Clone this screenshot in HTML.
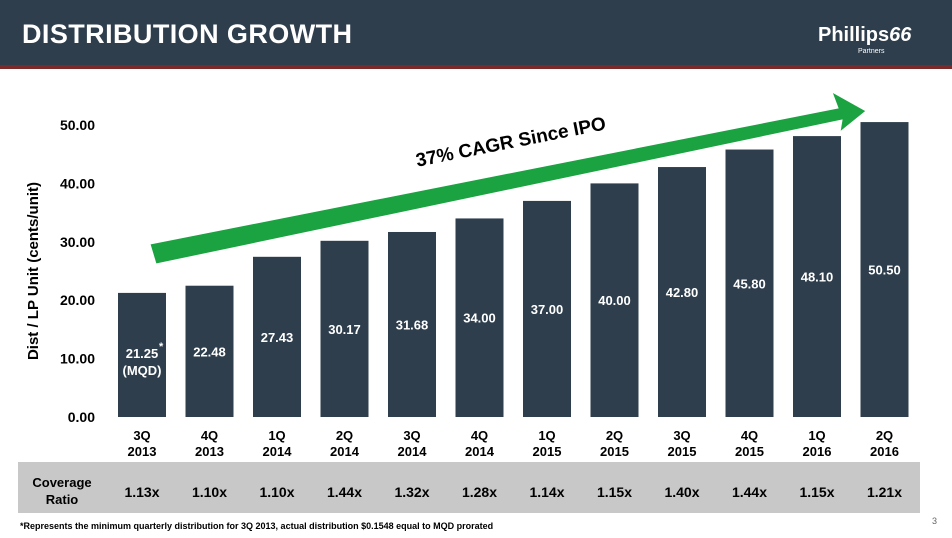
<!DOCTYPE html>
<html><head><meta charset="utf-8"><style>
body{margin:0;width:952px;height:533px;overflow:hidden;background:#fff;font-family:"Liberation Sans",sans-serif}
</style></head><body>
<svg width="952" height="533" xmlns="http://www.w3.org/2000/svg">
<rect x="0" y="0" width="952" height="65" fill="#2e3e4d"/>
<rect x="0" y="65" width="952" height="4" fill="#7a2a2a"/>
<text x="22" y="43" fill="#fff" font-size="27" font-weight="bold" textLength="330">DISTRIBUTION GROWTH</text>
<text x="818" y="41" fill="#fff" font-size="20" font-weight="bold">Phillips<tspan font-style="italic">66</tspan></text>
<text x="858" y="53" fill="#fff" font-size="7">Partners</text>
<rect x="18" y="462" width="902" height="51" fill="#c8c8c8"/>
<text x="62" y="487" text-anchor="middle" font-size="13" font-weight="bold">Coverage</text>
<text x="62" y="504" text-anchor="middle" font-size="13" font-weight="bold">Ratio</text>
<g id="chart"></g>
<text x="20" y="529" font-size="9" font-weight="bold">*Represents the minimum quarterly distribution for 3Q 2013, actual distribution $0.1548 equal to MQD prorated</text>
<text x="932" y="524" font-size="9" fill="#666">3</text>
</svg>
<script>
const categories=[["3Q","2013"],["4Q","2013"],["1Q","2014"],["2Q","2014"],["3Q","2014"],["4Q","2014"],["1Q","2015"],["2Q","2015"],["3Q","2015"],["4Q","2015"],["1Q","2016"],["2Q","2016"]];
const values=[21.25,22.48,27.43,30.17,31.68,34.00,37.00,40.00,42.80,45.80,48.10,50.50];
const coverage=["1.13x","1.10x","1.10x","1.44x","1.32x","1.28x","1.14x","1.15x","1.40x","1.44x","1.15x","1.21x"];
const yTicks=[0,10,20,30,40,50];
const NS="http://www.w3.org/2000/svg";
const g=document.getElementById('chart');
const y=v=>417-v*5.84;
const x=i=>118+i*67.5;
const bw=48;
function mk(tag,attrs,txt){const e=document.createElementNS(NS,tag);for(const k in attrs)e.setAttribute(k,attrs[k]);if(txt!==undefined)e.textContent=txt;g.appendChild(e);return e;}
yTicks.forEach(t=>{
 const e=mk('text',{x:95,y:y(t)+5,'text-anchor':'end','font-size':14,'font-weight':'bold'},t.toFixed(2));
 
 
});
const yt=mk('text',{transform:'translate(38,271) rotate(-90)','text-anchor':'middle','font-size':15,'font-weight':'bold'},'Dist / LP Unit (cents/unit)');


values.forEach((v,i)=>{
 const r=mk('rect',{x:x(i),y:y(v),width:bw,height:y(0)-y(v),fill:'#2e3e4d'});
 
 
 const cx=x(i)+bw/2;
 const lbl=mk('text',{x:cx,y:y(v/2)+5,'text-anchor':'middle','font-size':13,'font-weight':'bold',fill:'#fff'},v.toFixed(2));
 
 
 if(i===0){lbl.setAttribute('y',y(v/2)+3);
  const m=mk('text',{x:cx,y:y(v/2)+20,'text-anchor':'middle','font-size':13,'font-weight':'bold',fill:'#fff'},'(MQD)');
  
  
  const s=mk('text',{x:cx+17,y:y(v/2)-5,'font-size':11,'font-weight':'bold',fill:'#fff'},'*');
  
  
 }
 categories[i].forEach((c,j)=>{
  const t=mk('text',{x:cx,y:440+j*16,'text-anchor':'middle','font-size':13,'font-weight':'bold'},c);
  
  
 });
 const cv=mk('text',{x:cx,y:497,'text-anchor':'middle','font-size':14,'font-weight':'bold'},coverage[i]);
 
 
});
const ar=mk('polygon',{points:'150,244 838,108 832,92 866,111 840,132 842,120 156,264',fill:'#1aa340',stroke:'#fff','stroke-width':1});


const at=mk('text',{transform:'translate(512,148) rotate(-11.2)','text-anchor':'middle','font-size':19,'font-weight':'bold'},'37% CAGR Since IPO');


</script>
</body></html>
